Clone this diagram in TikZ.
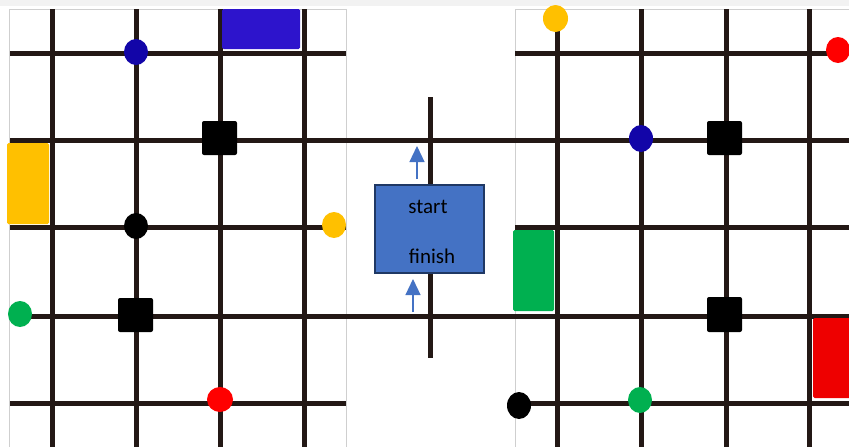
\documentclass[tikz,border=0pt]{standalone}
\usepackage{fontspec}
\setmainfont{Carlito}
\usetikzlibrary{arrows.meta}
\definecolor{gridc}{HTML}{231815}
\definecolor{bordergray}{HTML}{CFCFCF}
\definecolor{bandgray}{HTML}{F2F2F2}
\definecolor{boxblue}{HTML}{4472C4}
\definecolor{boxnavy}{HTML}{1F3864}
\definecolor{mblue}{HTML}{2D14CC}
\definecolor{dblue}{HTML}{1205A8}
\definecolor{myellow}{HTML}{FFC000}
\definecolor{mgreen}{HTML}{00B050}
\definecolor{mred}{HTML}{FF0000}
\definecolor{mred2}{HTML}{EE0000}
\tikzset{
  gline/.style={draw=gridc, line width=5pt, line cap=butt},
  pborder/.style={draw=bordergray, line width=1pt},
  sq/.style={fill=black, rounded corners=2pt},
  blk/.style={fill=mblue, rounded corners=1.5pt},
  arrowc/.style={draw=boxblue, line width=1.2pt, -{Triangle[width=15pt,length=16pt]}},
  lbl/.style={font=\fontsize{21}{25}\selectfont, text=black, inner sep=0pt}
}
\begin{document}
\begin{tikzpicture}[x=1pt,y=-1pt]
\useasboundingbox (0,0) rectangle (849,447);
\fill[white] (0,0) rectangle (849,447);
\fill[bandgray] (0,0) rectangle (849,6);
% panel borders
\draw[pborder] (9,447) -- (9,9) -- (346,9) -- (346,447);
\draw[pborder] (515,447) -- (515,9) -- (849,9);
% left panel horizontals
\draw[gline] (10,53) -- (346,53);
\draw[gline] (10,227) -- (346,227);
\draw[gline] (10,403) -- (346,403);
% spanning horizontals
\draw[gline] (10,140) -- (849,140);
\draw[gline] (10,316) -- (849,316);
% right panel horizontals
\draw[gline] (515,53) -- (838,53);
\draw[gline] (515,227) -- (849,227);
\draw[gline] (519,403) -- (849,403);
% left verticals
\foreach \x in {52,136,220,304} \draw[gline] (\x,9) -- (\x,447);
% right verticals
\draw[gline] (557,18) -- (557,447);
\foreach \x in {641,726,809} \draw[gline] (\x,9) -- (\x,447);
% centre vertical
\draw[gline] (430,97) -- (430,358);
% left panel shapes
\fill[blk] (222,9) rectangle (300,49);
\fill[dblue] (136,52) ellipse [x radius=12, y radius=13];
\fill[sq] (202,121) rectangle (237,155);
\fill[myellow, rounded corners=1.5pt] (7,143) rectangle (49,224);
\fill[black] (136,226) ellipse [x radius=12, y radius=13];
\fill[myellow] (334,225) ellipse [x radius=12, y radius=13];
\fill[mgreen] (20,314) ellipse [x radius=12, y radius=13];
\fill[sq] (118,298) rectangle (153,332);
\fill[mred] (220,399.5) ellipse [x radius=13, y radius=12.5];
% right panel shapes
\fill[myellow] (555.5,18.5) ellipse [x radius=12.5, y radius=13.5];
\fill[mred] (838,50) ellipse [x radius=12, y radius=13];
\fill[dblue] (641,138.5) ellipse [x radius=12, y radius=13.5];
\fill[sq] (707,121) rectangle (742,155);
\fill[mgreen, rounded corners=1.5pt] (513,230) rectangle (554,311);
\fill[sq] (707,297) rectangle (742,332);
\fill[mred2, rounded corners=1.5pt] (813,318) rectangle (852,398);
\fill[black] (519,405.5) ellipse [x radius=12, y radius=13.5];
\fill[mgreen] (640,400) ellipse [x radius=12, y radius=13];
% centre box
\node[draw=boxnavy, fill=boxblue, line width=1.8pt, minimum width=109pt, minimum height=88pt, inner sep=0pt] (box) at (429.5,229) {};
\node[lbl, anchor=base] (start) at (428,213) {start};
\node[lbl, anchor=base] (finish) at (432,263) {finish};
\coordinate (a1s) at (417,179);
\coordinate (a1e) at (417,146);
\coordinate (a2s) at (413,312);
\coordinate (a2e) at (413,279);
\draw[arrowc] (a1s) -- (a1e);
\draw[arrowc] (a2s) -- (a2e);
\end{tikzpicture}
\end{document}
